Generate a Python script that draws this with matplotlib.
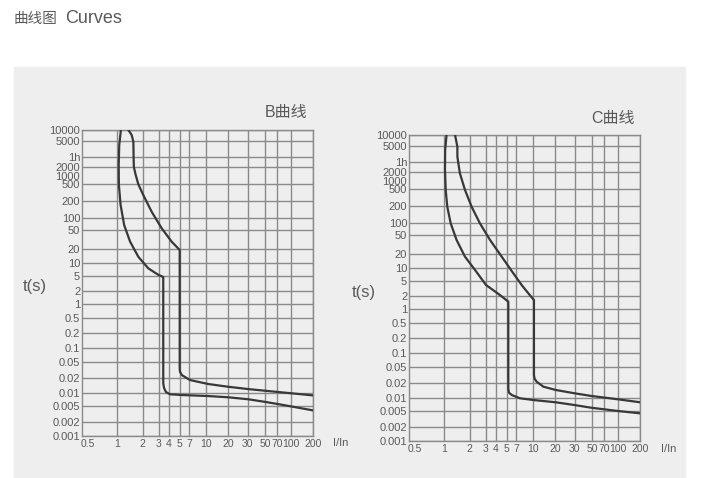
import numpy as np
import matplotlib.pyplot as plt
from matplotlib.patches import Rectangle

plt.rcParams['font.family'] = ['Liberation Sans', 'Noto Sans CJK SC', 'DejaVu Sans']

# ---- axis ticks (the chart uses a hand-drawn, uneven log-like grid) ----
x_ticks = [0.5, 1, 2, 3, 4, 5, 7, 10, 20, 30, 50, 70, 100, 200]
x_labels = ["0.5", "1", "2", "3", "4", "5", "7", "10", "20", "30", "50", "70", "100", "200"]
y_ticks = [0.001, 0.002, 0.005, 0.01, 0.02, 0.05, 0.1, 0.2, 0.5, 1, 2, 5,
           10, 20, 50, 100, 200, 500, 1000, 2000, 3600, 5000, 10000]
y_labels = ["0.001", "0.002", "0.005", "0.01", "0.02", "0.05", "0.1", "0.2", "0.5", "1", "2", "5",
            "10", "20", "50", "100", "200", "500", "1000", "2000", "1h", "5000", "10000"]
x_nogrid = [0.5]
y_nogrid = [1000]

# where each tick sits along the axis (pixels)
X_VALS = [0.43] + x_ticks
X_POS = [0, 6, 34.4, 60.4, 76.4, 86.4, 97.4, 107, 123.7, 146, 165.4, 182.7, 195, 208.7, 230.4]
Y_POS = [0, 14, 30, 43.3, 57.7, 74, 88.3, 102.7, 118, 131.7, 145, 160.3,
         173, 186.7, 206, 217.7, 235, 251.7, 260.3, 269, 278.7, 295, 306.3]

# ---- curve data: I/In vs t(s) ----
b_lower_x = [1.12, 1.07, 1.055, 1.06, 1.11, 1.22, 1.43, 1.78, 2.30, 2.99, 3.30, 3.42,
             3.42, 3.5, 3.7, 4.11, 5.36, 10.7, 20, 30.5, 50, 78.5, 200]
b_lower_t = [10000, 4610, 2260, 481, 170, 67, 28.7, 13.7, 7.5, 5.2, 4.8, 4.6,
             0.0157, 0.0125, 0.0103, 0.0092, 0.00887, 0.0084, 0.00787, 0.0071, 0.0062, 0.00535, 0.0039]
b_upper_x = [1.36, 1.49, 1.56, 1.57, 1.58, 1.66, 1.78, 2.03, 2.51, 3.27, 4.25, 5.0,
             5.0, 5.05, 5.36, 7.1, 10.7, 20, 30.5, 65.7, 200]
b_upper_t = [10000, 7220, 4930, 3390, 2000, 1058, 500, 278, 130, 55.3, 28.7, 19.3,
             0.035, 0.029, 0.0241, 0.0184, 0.0152, 0.0133, 0.0119, 0.0105, 0.0087]

c_lower_x = [1.08, 1.04, 1.035, 1.055, 1.10, 1.205, 1.41, 1.765, 2.29, 3.03, 4.36, 5.29,
             5.29, 5.4, 5.96, 7.57, 10.1, 20.2, 29.7, 48.5, 100, 200]
c_lower_t = [10000, 4610, 2260, 481, 194, 100, 39.4, 17.7, 8.97, 3.86, 2.12, 1.49,
             0.0157, 0.0128, 0.0114, 0.0097, 0.00887, 0.00787, 0.00684, 0.00594, 0.005, 0.00439]
c_upper_x = [1.35, 1.44, 1.44, 1.54, 1.765, 2.10, 2.59, 3.40, 4.52, 6.3, 7.85, 8.85, 10.3,
             10.3, 10.5, 11.2, 13.8, 20.2, 29.7, 48.5, 100, 200]
c_upper_t = [10000, 4930, 4030, 1800, 481, 194, 100, 39.4, 17.7, 7.5, 3.86, 2.54, 1.62,
             0.0319, 0.026, 0.0219, 0.017, 0.0145, 0.0124, 0.0109, 0.0092, 0.0079]

GRID = '#8a8a8a'
CURVE = '#383838'
PANEL = '#eeeeee'
TXT = '#5a5a5a'


def interp_ext(x, xp, fp):
    x = np.asarray(x, float)
    y = np.interp(x, xp, fp)
    y = np.where(x < xp[0], fp[0] + (x - xp[0]) * (fp[1] - fp[0]) / (xp[1] - xp[0]), y)
    y = np.where(x > xp[-1], fp[-1] + (x - xp[-1]) * (fp[-1] - fp[-2]) / (xp[-1] - xp[-2]), y)
    return y


def make_scale(vals, pos):
    lv = np.log10(vals)
    pos = np.asarray(pos, float)

    def fwd(v):
        v = np.clip(np.asarray(v, float), 1e-12, None)
        return interp_ext(np.log10(v), lv, pos)

    def inv(p):
        return 10 ** interp_ext(p, pos, lv)
    return fwd, inv


fig = plt.figure(figsize=(7.04, 4.78), dpi=100)
W, H = 704, 478
fig.patches.append(Rectangle((14 / W, 0), (685 - 14) / W, (478 - 67) / H,
                             transform=fig.transFigure, color=PANEL, zorder=-5))

fig.text(14 / W, 1 - 18.5 / H, "曲线图", fontsize=10.5, color=TXT, va='center',
         family=['Noto Sans CJK SC'])
fig.text(65 / W, 1 - 18.5 / H, "Curves", fontsize=13, color=TXT, va='center')

charts = [
    (82.3, 436, "B曲线", (307, 112.7), (35, 287), (341, 443.5),
     [(b_lower_x, b_lower_t), (b_upper_x, b_upper_t)]),
    (409.3, 441, "C曲线", (635, 118.3), (364, 292), (669, 449),
     [(c_lower_x, c_lower_t), (c_upper_x, c_upper_t)]),
]

for left, bottom, name, name_xy, t_xy, i_xy, curves in charts:
    ax = fig.add_axes([left / W, (H - bottom) / H, 230.4 / W, 306.3 / H])
    ax.set_zorder(2)
    ax.set_facecolor(PANEL)
    ax.set_xscale('function', functions=make_scale(X_VALS, X_POS))
    ax.set_yscale('function', functions=make_scale(y_ticks, Y_POS))
    ax.set_xlim(0.43, 200)
    ax.set_ylim(0.001, 10000)

    for v in x_ticks:
        if v not in x_nogrid:
            ax.axvline(v, color=GRID, lw=1.0, zorder=1)
    for v in y_ticks:
        if v not in y_nogrid:
            ax.axhline(v, color=GRID, lw=1.0, zorder=1)

    for xs, ts in curves:
        ax.plot(xs, ts, color=CURVE, lw=1.6, zorder=3, solid_joinstyle='round')

    ax.set_xticks(x_ticks, x_labels)
    ax.set_yticks(y_ticks, y_labels)
    ax.minorticks_off()
    ax.tick_params(length=0, labelcolor=TXT)
    ax.tick_params(axis='x', pad=2.5, labelsize=7.5)
    ax.tick_params(axis='y', pad=1.5, labelsize=8)
    for s in ax.spines.values():
        s.set_color(GRID)
        s.set_linewidth(1.0)

    fig.text(name_xy[0] / W, 1 - name_xy[1] / H, name, fontsize=11.5, color=TXT,
             ha='right', va='center')
    fig.text(t_xy[0] / W, 1 - t_xy[1] / H, "t(s)", fontsize=12, color=TXT,
             ha='center', va='center')
    fig.text(i_xy[0] / W, 1 - i_xy[1] / H, "I/In", fontsize=8, color=TXT,
             ha='center', va='center')

fig.savefig("out.png", dpi=100)
